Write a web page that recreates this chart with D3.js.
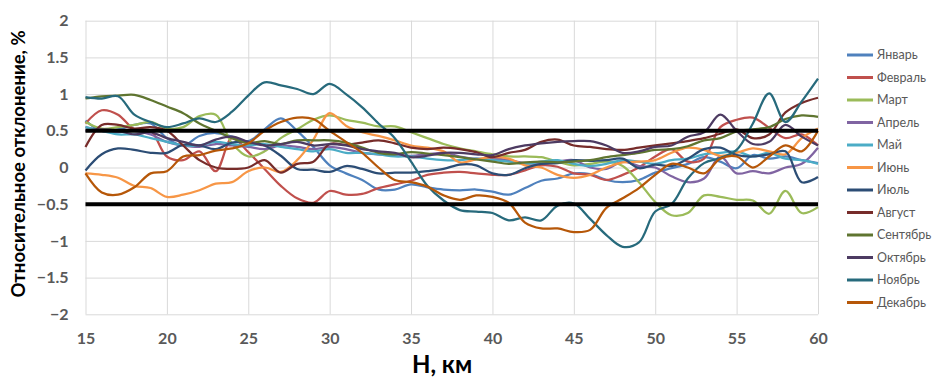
<!DOCTYPE html>
<html>
<head>
<meta charset="utf-8">
<script src="https://cdn.jsdelivr.net/npm/d3@7"></script>
<style>
  body { margin: 0; background: #fff; }
  svg { display: block; font-family: Lato, "Open Sans", sans-serif; }
</style>
</head>
<body>
<svg width="940" height="384"></svg>
<script>
// heights, km
var heights = [15,16,17,18,19,20,21,22,23,24,25,26,27,28,29,30,31,32,33,34,35,36,37,38,39,40,
  41,42,43,44,45,46,47,48,49,50,51,52,53,54,55,56,57,58,59,60];

// relative deviation, %
var jan = [0.64,0.5,0.52,0.58,0.6,0.4,0.3,0.43,0.47,0.42,0.36,0.52,0.67,0.5,0.28,0.03,-0.08,-0.17,-0.3,-0.3,
  -0.23,-0.27,-0.3,-0.31,-0.3,-0.33,-0.37,-0.28,-0.18,-0.15,-0.08,-0.09,-0.17,-0.2,-0.17,-0.07,-0.01,0.05,0.14,0.08,
  -0.01,0.17,0.12,0.15,0.1,0.06];
var feb = [0.6,0.78,0.72,0.52,0.5,0.15,0.1,0.22,-0.05,0.4,0.21,-0.02,-0.25,-0.42,-0.48,-0.32,-0.37,-0.36,-0.28,-0.23,
  -0.18,-0.1,-0.07,-0.06,-0.08,-0.1,-0.1,-0.04,0.03,0.01,-0.08,-0.1,-0.17,-0.1,0.0,0.15,0.25,0.08,0.12,0.55,
  0.65,0.68,0.54,0.4,0.45,0.3];
var mar = [0.62,0.53,0.55,0.58,0.62,0.53,0.55,0.7,0.72,0.33,0.15,0.22,0.4,0.52,0.65,0.71,0.65,0.61,0.56,0.56,
  0.48,0.4,0.32,0.26,0.22,0.18,0.15,0.15,0.14,0.08,0.03,0.05,0.08,0.02,-0.2,-0.47,-0.65,-0.62,-0.38,-0.4,
  -0.44,-0.45,-0.63,-0.32,-0.62,-0.54];
var apr = [0.55,0.5,0.48,0.5,0.45,0.35,0.3,0.28,0.32,0.3,0.28,0.25,0.3,0.28,0.25,0.28,0.25,0.2,0.18,0.17,
  0.16,0.18,0.2,0.15,0.12,0.12,0.1,0.06,0.05,0.08,0.1,0.0,-0.02,0.08,0.02,0.0,-0.12,-0.2,-0.15,0.15,
  -0.08,-0.05,-0.08,0.0,0.05,0.27];
var may = [0.55,0.5,0.45,0.45,0.4,0.35,0.3,0.3,0.35,0.32,0.3,0.32,0.28,0.25,0.22,0.25,0.2,0.2,0.18,0.15,
  0.15,0.12,0.1,0.1,0.12,0.1,0.08,0.05,0.08,0.1,0.05,0.02,0.05,0.1,0.08,0.05,0.1,0.12,0.18,0.2,
  0.22,0.15,0.2,0.12,0.1,0.05];
var jun = [-0.08,-0.1,-0.14,-0.25,-0.28,-0.4,-0.37,-0.31,-0.22,-0.2,-0.05,0.0,-0.06,0.1,0.38,0.74,0.57,0.48,0.43,0.37,
  0.3,0.27,0.22,0.07,0.11,0.14,0.12,0.03,0.0,-0.1,-0.14,-0.1,0.0,0.07,0.08,0.1,0.2,0.27,0.24,0.16,
  0.2,0.26,0.22,0.18,0.4,0.53];
var jul = [-0.04,0.18,0.26,0.24,0.2,0.2,0.31,0.3,0.25,0.34,0.35,0.3,0.16,-0.02,-0.03,-0.06,0.02,-0.02,-0.08,-0.07,
  -0.07,-0.05,-0.02,0.04,0.03,-0.08,-0.1,-0.01,0.05,0.06,0.1,0.09,0.1,0.12,-0.01,0.04,0.02,0.12,0.25,0.27,
  0.17,0.15,0.18,0.22,-0.2,-0.13];
var aug = [0.28,0.58,0.58,0.53,0.55,0.5,0.3,0.1,0.0,-0.02,0.0,0.1,-0.07,0.05,0.08,0.32,0.31,0.34,0.37,0.33,
  0.27,0.25,0.27,0.25,0.21,0.14,0.2,0.24,0.35,0.38,0.3,0.28,0.25,0.24,0.27,0.3,0.33,0.36,0.4,0.46,
  0.52,0.4,0.45,0.75,0.88,0.95];
var sep = [0.94,0.97,0.98,0.99,0.92,0.83,0.74,0.6,0.5,0.4,0.33,0.36,0.32,0.37,0.37,0.37,0.34,0.27,0.2,0.18,
  0.21,0.19,0.17,0.14,0.11,0.08,0.05,0.07,0.08,0.07,0.08,0.1,0.14,0.17,0.2,0.24,0.25,0.29,0.37,0.4,
  0.49,0.52,0.55,0.66,0.71,0.69];
var oct = [0.5,0.52,0.5,0.45,0.48,0.4,0.35,0.3,0.38,0.42,0.35,0.3,0.32,0.35,0.3,0.32,0.3,0.25,0.22,0.2,
  0.14,0.16,0.2,0.2,0.18,0.17,0.25,0.3,0.33,0.35,0.36,0.36,0.3,0.2,0.22,0.28,0.3,0.42,0.48,0.72,
  0.5,0.32,0.35,0.58,0.42,0.3];
var nov = [0.96,0.94,0.97,0.72,0.62,0.55,0.6,0.67,0.62,0.76,0.98,1.16,1.12,1.07,1.0,1.14,1.0,0.82,0.6,0.4,
  0.08,-0.25,-0.45,-0.58,-0.6,-0.62,-0.72,-0.68,-0.72,-0.52,-0.49,-0.7,-0.92,-1.08,-1.02,-0.6,-0.5,-0.15,0.06,0.13,
  0.24,0.6,1.01,0.62,0.9,1.21];
var dec = [-0.08,-0.34,-0.37,-0.27,-0.08,-0.05,0.15,0.17,0.23,0.26,0.33,0.5,0.62,0.68,0.66,0.5,0.35,0.2,0.0,-0.17,
  -0.2,-0.26,-0.38,-0.44,-0.38,-0.4,-0.48,-0.75,-0.83,-0.83,-0.88,-0.85,-0.55,-0.42,-0.28,-0.1,0.05,0.0,-0.08,0.12,
  0.15,0.0,0.15,0.3,0.22,0.5];

var months = ["Январь","Февраль","Март","Апрель","Май","Июнь","Июль","Август","Сентябрь","Октябрь","Ноябрь","Декабрь"];
var monthValues = [jan, feb, mar, apr, may, jun, jul, aug, sep, oct, nov, dec];
var colors = ["#4F81BD","#C0504D","#9BBB59","#8064A2","#4BACC6","#F79646",
              "#2C4D75","#772C2A","#5F7530","#4D3B62","#276A7C","#B65708"];
var limits = [0.5, -0.5];
var xTicks = [15,20,25,30,35,40,45,50,55,60];
var yTicks = [-2,-1.5,-1,-0.5,0,0.5,1,1.5,2];

var svg = d3.select("svg");
var margin = {top: 20.7, right: 122, bottom: 69.7, left: 85.5};
var width = 940, height = 384;

var x = d3.scaleLinear().domain([15, 60]).range([margin.left, width - margin.right]);
var y = d3.scaleLinear().domain([-2, 2]).range([height - margin.bottom, margin.top]);

// grid + tick labels
var yAxis = svg.append("g")
    .attr("transform", "translate(" + margin.left + ",0)")
    .call(d3.axisLeft(y).tickValues(yTicks).tickFormat(d3.format("")).tickSizeInner(-(x(60) - x(15))).tickSizeOuter(0).tickPadding(17));
var xAxis = svg.append("g")
    .attr("transform", "translate(0," + y(-2) + ")")
    .call(d3.axisBottom(x).tickValues(xTicks).tickSizeInner(-(y(-2) - y(2))).tickSizeOuter(0).tickPadding(18));

svg.selectAll(".domain").remove();
svg.selectAll(".tick line").attr("stroke", "#d9d9d9").attr("stroke-width", 1);
svg.selectAll(".tick text")
    .attr("fill", "#595959")
    .style("font-family", "Lato, sans-serif")
    .style("font-weight", "bold")
    .style("font-size", "16px");

// series
var line = d3.line()
    .x(function(d, i) { return x(heights[i]); })
    .y(function(d) { return y(d); })
    .curve(d3.curveCatmullRom.alpha(0.5));

svg.append("g").selectAll("path")
  .data(monthValues)
  .enter().append("path")
    .attr("fill", "none")
    .attr("stroke", function(d, i) { return colors[i]; })
    .attr("stroke-width", 2.25)
    .attr("stroke-linejoin", "round")
    .attr("d", line);

// +-0.5 limits
svg.append("g").selectAll("line")
  .data(limits)
  .enter().append("line")
    .attr("x1", x(15)).attr("x2", x(60))
    .attr("y1", function(d) { return y(d); })
    .attr("y2", function(d) { return y(d); })
    .attr("stroke", "#000")
    .attr("stroke-width", 4);

// legend
var legend = svg.append("g").selectAll("g")
  .data(months)
  .enter().append("g")
    .attr("transform", function(d, i) { return "translate(847," + (55 + i * 22.5) + ")"; });
legend.append("line")
    .attr("x1", 0).attr("x2", 26)
    .attr("stroke", function(d, i) { return colors[i]; })
    .attr("stroke-width", 3);
legend.append("text")
    .attr("x", 30)
    .attr("dy", "0.35em")
    .attr("fill", "#595959")
    .style("font-size", "12.5px")
    .text(function(d) { return d; });

// titles
svg.append("text")
    .attr("x", 442).attr("y", 373)
    .attr("text-anchor", "middle")
    .style("font-size", "24px").style("font-weight", "bold")
    .text("H, км");

svg.append("text")
    .attr("transform", "translate(25,164) rotate(-90)")
    .attr("text-anchor", "middle")
    .style("font-size", "18.5px").style("font-weight", "bold")
    .text("Относительное отклонение, %");
</script>
</body>
</html>
